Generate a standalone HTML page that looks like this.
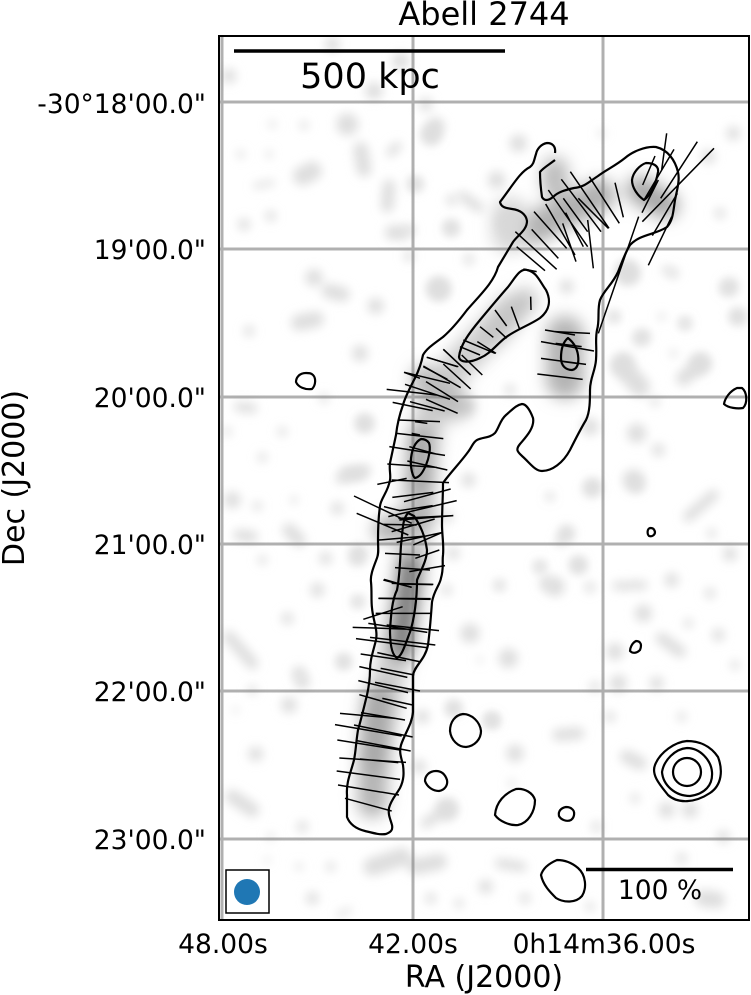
<!DOCTYPE html>
<html><head><meta charset="utf-8"><style>
html,body{margin:0;padding:0;background:#fff;width:751px;height:995px;overflow:hidden}
svg{display:block}
text{font-family:"DejaVu Sans","Liberation Sans",sans-serif;fill:#000}
.k circle{fill:#dedede}
.k path{fill:none;stroke:#dedede;stroke-linecap:round}
</style></head><body>
<svg width="751" height="995" viewBox="0 0 751 995" xmlns="http://www.w3.org/2000/svg">
<defs>
<filter id="z" x="-20%" y="-20%" width="140%" height="140%"><feGaussianBlur stdDeviation="15"/></filter>
<filter id="c" x="-50%" y="-50%" width="200%" height="200%"><feGaussianBlur stdDeviation="8"/></filter>
<clipPath id="f"><rect x="219" y="36" width="530" height="884"/></clipPath>
</defs>
<rect width="751" height="995" fill="#fff"/>
<g clip-path="url(#f)">
<g class="k" transform="translate(219 36) scale(.33333)" filter="url(#z)">
<circle cx="385" cy="265" r="33"/><path d="M635 300L650 270" stroke-width="52"/><path d="M250 420L280 405" stroke-width="56"/><path d="M425 340L435 400" stroke-width="44"/><path d="M510 450L505 510" stroke-width="38"/><circle cx="590" cy="445" r="22"/><path d="M515 350L535 330" stroke-width="26"/><circle cx="660" cy="760" r="32"/><circle cx="470" cy="810" r="24"/><circle cx="285" cy="725" r="26"/><path d="M330 765L370 775" stroke-width="44"/><path d="M240 860L290 850" stroke-width="48"/><path d="M520 590L550 590" stroke-width="44"/><circle cx="695" cy="575" r="21"/><circle cx="75" cy="565" r="18"/><circle cx="155" cy="540" r="16"/><path d="M110 450L160 440" stroke-width="16"/><circle cx="65" cy="355" r="12"/><circle cx="150" cy="355" r="11"/><circle cx="255" cy="268" r="13"/><circle cx="160" cy="265" r="11"/><circle cx="30" cy="120" r="22"/><circle cx="340" cy="25" r="22"/><circle cx="545" cy="75" r="26"/><circle cx="465" cy="165" r="26"/><circle cx="620" cy="205" r="20"/><path d="M780 515L730 480" stroke-width="30"/><circle cx="750" cy="670" r="16"/><circle cx="570" cy="660" r="16"/><circle cx="90" cy="885" r="16"/>
</g>
<g class="k" transform="translate(219 380) scale(.33333)" filter="url(#z)">
<circle cx="40" cy="360" r="25"/><circle cx="115" cy="378" r="14"/><circle cx="225" cy="360" r="11"/><path d="M60 80L100 85" stroke-width="30"/><circle cx="190" cy="155" r="14"/><circle cx="25" cy="155" r="13"/><circle cx="130" cy="232" r="14"/><circle cx="355" cy="385" r="19"/><circle cx="435" cy="130" r="22"/><path d="M365 295L440 270" stroke-width="30"/><path d="M210 450L240 480" stroke-width="40"/><path d="M60 465L100 470" stroke-width="34"/><circle cx="320" cy="535" r="19"/><circle cx="130" cy="540" r="14"/><circle cx="295" cy="630" r="21"/><circle cx="205" cy="715" r="18"/><circle cx="415" cy="665" r="16"/><path d="M30 770L100 850" stroke-width="36"/><circle cx="375" cy="845" r="19"/><circle cx="240" cy="880" r="21"/><circle cx="315" cy="55" r="14"/><circle cx="415" cy="535" r="22"/>
</g>
<g class="k" transform="translate(219 680) scale(.33333)" filter="url(#z)">
<circle cx="210" cy="75" r="24"/><circle cx="110" cy="222" r="22"/><path d="M40 350L100 390" stroke-width="42"/><circle cx="250" cy="440" r="17"/><circle cx="155" cy="470" r="11"/><circle cx="280" cy="655" r="19"/><circle cx="240" cy="560" r="11"/><circle cx="335" cy="560" r="14"/><path d="M360 705L390 690" stroke-width="16"/><path d="M460 560L550 530" stroke-width="54"/><path d="M590 560L660 545" stroke-width="48"/><circle cx="800" cy="620" r="21"/><circle cx="635" cy="655" r="16"/><circle cx="720" cy="670" r="14"/><circle cx="680" cy="390" r="32"/><path d="M620 430L650 410" stroke-width="30"/><circle cx="610" cy="110" r="21"/><circle cx="705" cy="85" r="21"/><circle cx="820" cy="125" r="19"/><circle cx="600" cy="260" r="21"/><circle cx="100" cy="30" r="14"/><circle cx="50" cy="90" r="9"/><circle cx="250" cy="5" r="22"/><circle cx="145" cy="540" r="9"/>
</g>
<g class="k" transform="translate(480 480) scale(.33333)" filter="url(#z)">
<path d="M700 45L625 110" stroke-width="32"/><circle cx="470" cy="15" r="22"/><circle cx="335" cy="25" r="26"/><path d="M260 160L240 185" stroke-width="26"/><circle cx="210" cy="50" r="9"/><circle cx="695" cy="160" r="14"/><circle cx="750" cy="222" r="22"/><circle cx="575" cy="300" r="21"/><circle cx="295" cy="255" r="24"/><circle cx="180" cy="260" r="16"/><circle cx="225" cy="320" r="29"/><circle cx="330" cy="322" r="16"/><path d="M410 318L490 315" stroke-width="26"/><circle cx="690" cy="340" r="16"/><circle cx="55" cy="318" r="11"/><circle cx="490" cy="400" r="26"/><circle cx="625" cy="430" r="14"/><circle cx="715" cy="465" r="19"/><path d="M545 475L600 515" stroke-width="36"/><circle cx="405" cy="515" r="26"/><circle cx="85" cy="535" r="29"/><circle cx="415" cy="610" r="26"/><circle cx="530" cy="610" r="21"/><circle cx="345" cy="620" r="16"/><circle cx="765" cy="555" r="14"/><circle cx="35" cy="715" r="14"/>
</g>
<g class="k" transform="translate(590 230) scale(.33333)" filter="url(#z)">
<circle cx="115" cy="130" r="34"/><circle cx="410" cy="175" r="19"/><circle cx="445" cy="260" r="26"/><circle cx="250" cy="130" r="16"/><circle cx="215" cy="260" r="11"/><circle cx="285" cy="280" r="16"/><circle cx="150" cy="325" r="21"/><path d="M335 400L280 445" stroke-width="44"/><path d="M95 410L150 470" stroke-width="60"/><circle cx="140" cy="610" r="29"/><circle cx="205" cy="660" r="19"/><circle cx="195" cy="515" r="14"/><circle cx="130" cy="750" r="32"/><circle cx="0" cy="590" r="26"/><circle cx="75" cy="260" r="14"/>
</g>
<g class="k" transform="translate(400 120) scale(.33333)" filter="url(#z)">
<circle cx="95" cy="40" r="26"/><circle cx="45" cy="190" r="16"/><circle cx="155" cy="325" r="21"/><circle cx="115" cy="505" r="32"/><circle cx="30" cy="330" r="16"/><circle cx="355" cy="70" r="26"/><circle cx="290" cy="180" r="26"/><circle cx="320" cy="310" r="32"/><circle cx="605" cy="40" r="11"/><circle cx="1000" cy="40" r="21"/><circle cx="925" cy="110" r="21"/><circle cx="960" cy="280" r="16"/><circle cx="990" cy="500" r="26"/><circle cx="1010" cy="590" r="16"/><circle cx="855" cy="610" r="16"/><circle cx="730" cy="650" r="21"/><circle cx="680" cy="455" r="32"/><circle cx="800" cy="450" r="14"/><circle cx="640" cy="590" r="16"/><circle cx="900" cy="730" r="32"/><circle cx="670" cy="730" r="32"/><circle cx="820" cy="700" r="11"/><circle cx="155" cy="240" r="16"/><circle cx="500" cy="500" r="21"/>
</g>
<g class="k" transform="translate(340 340) scale(.33333)" filter="url(#z)">
<circle cx="60" cy="40" r="24"/><circle cx="75" cy="250" r="26"/><circle cx="380" cy="200" r="26"/><circle cx="510" cy="150" r="16"/><circle cx="630" cy="470" r="11"/><circle cx="680" cy="580" r="24"/><circle cx="715" cy="675" r="21"/><circle cx="600" cy="680" r="16"/><circle cx="620" cy="730" r="21"/><circle cx="480" cy="735" r="16"/><circle cx="760" cy="440" r="21"/><circle cx="385" cy="420" r="21"/><path d="M20 400L60 400" stroke-width="40"/><circle cx="55" cy="640" r="26"/><circle cx="340" cy="640" r="19"/><circle cx="325" cy="530" r="16"/>
</g>
<g class="k" transform="translate(320 580) scale(.33333)" filter="url(#z)">
<circle cx="450" cy="160" r="29"/><circle cx="70" cy="245" r="21"/><circle cx="400" cy="385" r="21"/><circle cx="385" cy="685" r="26"/><circle cx="520" cy="420" r="16"/><circle cx="480" cy="240" r="9"/><circle cx="115" cy="65" r="16"/><circle cx="380" cy="30" r="16"/>
</g>
<g class="k" transform="translate(490 700) scale(.33333)" filter="url(#z)">
<path d="M205 105L265 100" stroke-width="36"/><circle cx="75" cy="160" r="26"/><circle cx="0" cy="60" r="16"/><path d="M410 170L450 190" stroke-width="40"/><circle cx="530" cy="330" r="24"/><circle cx="600" cy="330" r="24"/><circle cx="435" cy="295" r="14"/><circle cx="700" cy="410" r="19"/><path d="M30 490L95 500" stroke-width="30"/><circle cx="105" cy="595" r="16"/><path d="M640 595L680 600" stroke-width="50"/><circle cx="575" cy="50" r="14"/><circle cx="360" cy="50" r="16"/><circle cx="320" cy="380" r="16"/><circle cx="575" cy="475" r="16"/><circle cx="300" cy="620" r="14"/><circle cx="65" cy="250" r="11"/>
</g>
<g filter="url(#c)" fill="none" stroke-linecap="round">
<path d="M373 800C372 740 385 700 400 630S415 510 425 440 470 360 510 310" stroke="#cecece" stroke-width="32"/>
<path d="M402 650C402 620 408 600 410 565" stroke="#777" stroke-width="22"/>
<path d="M373 765L378 700" stroke="#a8a8a8" stroke-width="30"/>
<path d="M372 805V780" stroke="#b4b4b4" stroke-width="26"/>
<path d="M420 485V440" stroke="#a8a8a8" stroke-width="26"/>
<path d="M385 530L425 515" stroke="#b0b0b0" stroke-width="24"/>
<path d="M425 380L455 405" stroke="#bcbcbc" stroke-width="30"/>
<path d="M530 230L600 195" stroke="#b0b0b0" stroke-width="32"/>
<path d="M555 170V185" stroke="#bbb" stroke-width="26"/>
<path d="M510 215V235" stroke="#d8d8d8" stroke-width="36"/>
<path d="M640 190L665 205" stroke="#a8a8a8" stroke-width="28"/>
<path d="M565 335V380" stroke="#b4b4b4" stroke-width="38"/>
<path d="M495 335L525 300" stroke="#c4c4c4" stroke-width="24"/>
</g>
<g stroke="#808080" stroke-width="3" opacity=".62">
<path d="M222 36V920"/><path d="M413 36V920"/><path d="M603 36V920"/>
<path d="M219 102H749"/><path d="M219 249H749"/><path d="M219 397H749"/><path d="M219 544H749"/><path d="M219 691H749"/><path d="M219 839H749"/>
</g>
<g fill="none" stroke="#000" stroke-width="2.200" stroke-linejoin="round">
<path d="M555 153C556 146 552 143 547 143 541 144 537 149 536 154 534 160 534 164 530 167 520 172 513 185 500 202 501 207 505 208 512 209 520 210 526 214 527 221 527 230 518 235 513 242L498 267C494 282 480 295 467 310 458 322 450 331 443 337 435 343 427 348 423 355 421 365 418 372 415 378 410 388 405 397 403 405 399 416 397 426 396 435L390 463C389 470 391 475 390 480 388 492 381 498 380 506 378 520 378 530 378 540 378 548 379 553 377 558 374 566 370 575 371 582 372 592 371 600 372 608 373 620 378 630 376 640 373 652 370 660 370 670 370 680 369 686 367 695 364 707 361 720 358 730 356 742 356 750 354 760 351 772 346 782 347 795V817C350 825 357 829 365 831 373 833 380 835 386 834 391 832 393 830 392 825 390 818 388 815 389 808 391 800 396 795 400 788 404 780 404 773 403 765 401 757 399 752 401 745 405 733 412 724 413 712L413 675C415 665 425 660 428 645 430 630 431 615 432 602 434 590 440 585 441 578 444 568 442 562 443 555 444 545 442 535 442 525 442 510 443 497 443 483 450 473 460 463 468 452 472 447 473 442 477 440 483 437 490 438 495 433 499 428 500 420 506 415 512 410 516 405 522 404 526 404 530 410 533 418 535 428 525 438 520 444 515 450 518 452 522 456 530 463 535 471 542 471 552 471 563 463 570 450 575 440 580 430 586 420 590 412 590 400 590 390 590 378 595 372 596 360 597 345 595 340 597 330 600 320 597 310 600 300 604 290 612 285 618 272 622 262 625 253 630 245 640 234 655 235 667 227 673 220 673 213 675 200 677 190 680 180 678 172 675 160 668 150 656 147 645 146 632 152 625 158 615 166 606 170 598 176 590 181 585 187 574 188 565 190 558 192 553 197 548 201 544 201 542 197 541 190 540 180 540 172 543 168 550 164 555 160 555 153Z"/>
<path d="M646 163C640 165 633 172 632 180 632 188 638 196 644 200 650 196 656 184 658 172 659 165 652 163 646 163Z"/>
<path d="M527 270C520 268 515 278 508 287 500 296 490 308 480 320 470 332 460 345 459 357 460 363 470 363 480 358 490 354 496 345 505 338 515 330 530 325 540 318 550 310 551 300 546 290 540 282 537 272 527 270Z"/>
<path d="M568 338C563 342 561 350 561 358 561 366 566 370 572 370 578 369 579 362 578 355 577 348 573 342 568 338Z"/>
<path d="M421 439C415 442 412 450 411 458 410 468 413 477 415 478 420 477 423 472 426 465 429 458 431 448 429 443 427 440 424 439 421 439Z"/>
<path d="M408 513C402 520 403 530 401 545 400 560 400 575 397 590 392 600 391 615 390 630 390 645 392 655 397 658 402 656 405 645 410 632 414 620 417 600 417 580 421 570 427 560 427 550 425 535 420 525 414 516Z"/>
<path d="M306 373C299 373 296 378 296 382 298 387 305 390 312 389 316 385 316 378 313 375 311 373 309 373 306 373Z"/>
<path d="M737 388C730 391 725 398 724 404 728 408 738 409 743 408 748 403 747 392 742 388Z"/>
<path d="M650 528C647 529 647 534 649 536 652 537 655 535 655 532 654 528 652 528 650 528Z"/>
<path d="M636 641C632 643 630 648 630 651 633 654 637 653 640 650 642 645 641 641 636 641Z"/>
<path d="M463 714C455 715 450 722 450 731 451 740 458 747 466 747 475 746 481 739 481 731 480 722 472 714 463 714Z"/>
<path d="M436 771C429 771 425 776 425 781 427 787 433 791 439 791 445 790 448 785 447 780 445 774 441 771 436 771Z"/>
<path d="M516 789C505 793 496 802 495 815 499 821 510 826 518 825 528 823 535 812 535 800 533 793 525 788 516 789Z"/>
<path d="M566 807C561 808 558 811 559 816 561 820 567 822 571 820 575 817 575 811 572 809 570 807 568 807 566 807Z"/>
<path d="M557 860C550 863 543 868 541 875 543 885 550 892 556 898 564 903 576 903 582 896 587 888 586 875 578 868 571 862 564 860 557 860Z"/>
<path d="M687 741C675 742 660 752 655 765 651 775 660 785 668 795 678 804 695 803 710 793 722 785 723 770 718 757 710 745 698 741 687 741Z"/>
<path d="M687 748C675 749 664 760 662 772 663 785 675 796 690 796 705 794 713 785 712 772 711 760 700 748 687 748Z"/>
<circle cx="687" cy="772" r="14"/>
</g>
<g transform="translate(400 120) scale(.33333)" stroke="#000" stroke-width="4.5" fill="none">
<path d="M800 40L785 150M765 108L728 195M822 88L732 240M892 65L782 235M942 85L727 305M775 180L726 278M832 220L757 347M716 290L595 640M745 436L815 290M645 188L670 292M568 170L658 310M511 155L627 325M484 178L603 335M445 210L563 380M535 235L625 325M497 278L550 380M490 235L563 335M437 252L525 405M563 300L580 445M402 275L500 385M488 310L528 425M395 328L475 415M346 335L470 448M350 380L435 452M392 530L393 570M334 560L358 625M285 570L320 618M240 620L280 652M288 625L320 655M190 660L285 700M232 665L288 700M180 680L240 705M130 688L212 765M185 705L247 765M435 630L525 645M465 635L570 640M423 665L582 693M467 670L545 680M423 715L558 733M412 762L548 778M490 725L530 730M80 712L175 740M70 740L142 778M12 757L60 775M370 447L410 455"/>
</g>
<g transform="translate(340 340) scale(.33333)" stroke="#000" stroke-width="4.5" fill="none">
<path d="M262 52L352 80M310 28L392 105M310 72L392 147M250 78L362 143M193 97L330 130M258 125L354 185M195 133L330 178M140 148L290 165M210 185L314 213M258 178L353 220M158 187L278 212M175 240L300 245M225 245L262 250M170 280L310 296M215 280L240 285M208 320L288 342M148 320L315 346M202 363L322 390M142 372L290 382M112 433L200 415M155 420L327 428M157 472L280 457M192 485L332 447M132 500L180 512M178 512L278 497M145 530L350 482M42 468L215 550M175 535L340 527M50 520L205 585M130 553L230 555M155 575L284 537M117 600L260 588M170 607L305 578M220 615L305 578M135 640L240 645M226 655L298 630M165 683L270 690M208 695L315 677M132 718L215 742M155 730L280 733M115 775L272 776M178 540L340 527"/>
</g>
<g transform="translate(320 580) scale(.33333)" stroke="#000" stroke-width="4.5" fill="none">
<path d="M190 0L275 22M240 12L338 14M177 55L332 58M130 118L248 80M167 100L335 100M145 130L322 157M200 135L357 152M98 142L280 148M150 172L346 195M108 176L320 203M172 218L298 245M122 222L258 242M182 265L283 285M118 260L262 292M165 307L300 333M115 302L264 338M187 355L278 375M118 344L260 385M123 398L255 420M60 400L225 415M102 435L278 471M45 434L245 468M110 482L272 513M52 480L240 510M120 537L235 548M58 534L258 547M50 573L240 598M54 615L237 645M75 655L215 693"/>
</g>
<rect x="226" y="870" width="43" height="43" fill="#fff" stroke="#000" stroke-width="1.5"/>
<circle cx="247" cy="892" r="13" fill="#1f77b4"/>
<path d="M234 51H505" stroke="#000" stroke-width="3.500"/>
<path d="M586 869.500H733" stroke="#000" stroke-width="3.500"/>
<text x="370" y="88" font-size="35" text-anchor="middle">500 kpc</text>
<text x="660" y="899" font-size="26.500" text-anchor="middle">100 %</text>
</g>
<rect x="219" y="36" width="530" height="884" fill="none" stroke="#000" stroke-width="2"/>
<text x="484" y="25" font-size="32" text-anchor="middle">Abell 2744</text>
<g font-size="26.500" text-anchor="end">
<text x="206" y="113">-30°18'00.0"</text>
<text x="206" y="259">19'00.0"</text>
<text x="206" y="407">20'00.0"</text>
<text x="206" y="554">21'00.0"</text>
<text x="206" y="701">22'00.0"</text>
<text x="206" y="849">23'00.0"</text>
</g>
<g font-size="26.500" text-anchor="middle">
<text x="223" y="953">48.00s</text>
<text x="413" y="953">42.00s</text>
<text x="604" y="953">0h14m36.00s</text>
</g>
<text x="484" y="987" font-size="30" text-anchor="middle">RA (J2000)</text>
<text transform="translate(24 478) rotate(-90)" font-size="30" text-anchor="middle">Dec (J2000)</text>
</svg>
</body></html>
